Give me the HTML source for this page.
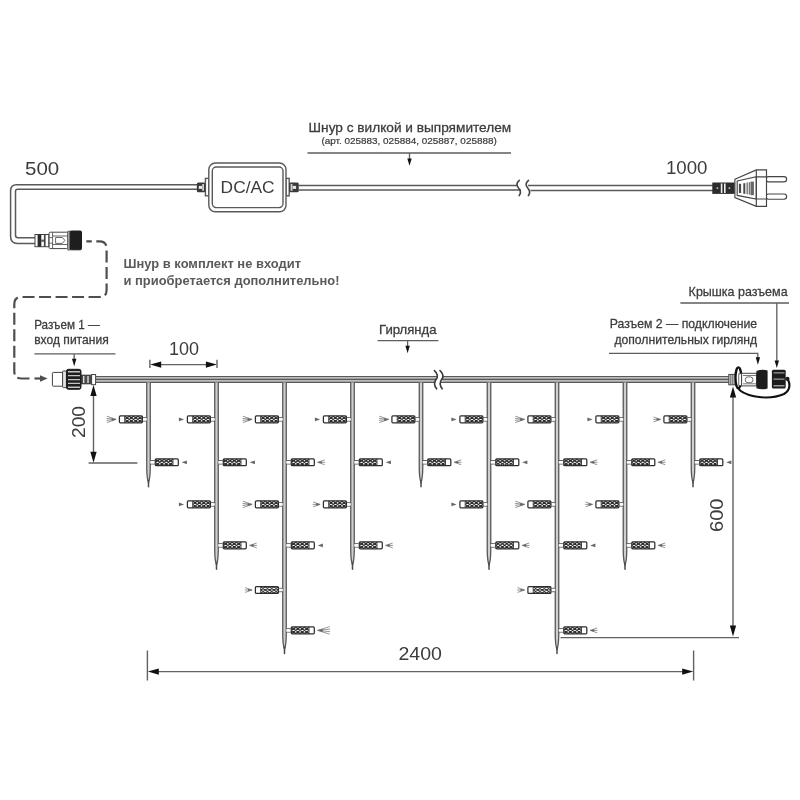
<!DOCTYPE html>
<html><head><meta charset="utf-8"><title>Scheme</title>
<style>html,body{margin:0;padding:0;background:#fff;}body{width:800px;height:800px;overflow:hidden;font-family:"Liberation Sans",sans-serif;}svg{display:block;will-change:transform;filter:blur(0.45px);}text{font-family:"Liberation Sans",sans-serif;}</style>
</head><body>
<svg width="800" height="800" viewBox="0 0 800 800">
<defs>
<g id="ledL">
<path d="M-5.6 -1.7H-1.6M-5.6 1.7H-1.6" stroke="#595959" stroke-width="1" fill="none"/>
<rect x="-5.8" y="-1.2" width="4" height="2.4" fill="#fff"/>
<rect x="-29.1" y="-3.45" width="23" height="6.9" rx="1" fill="#fff" stroke="#2e2e2e" stroke-width="1.25"/>
<path transform="translate(-23.6 0)" d="M0.00 -3.10l4.35 3.10M0.00 0.00l4.35 -3.10M0.00 0.00l4.35 3.10M0.00 3.10l4.35 -3.10M4.35 -3.10l4.35 3.10M4.35 0.00l4.35 -3.10M4.35 0.00l4.35 3.10M4.35 3.10l4.35 -3.10M8.70 -3.10l4.35 3.10M8.70 0.00l4.35 -3.10M8.70 0.00l4.35 3.10M8.70 3.10l4.35 -3.10M13.05 -3.10l4.35 3.10M13.05 0.00l4.35 -3.10M13.05 0.00l4.35 3.10M13.05 3.10l4.35 -3.10" stroke="#2e2e2e" stroke-width="1.15" fill="none"/>
<path d="M-23.8 -3.4V3.4" stroke="#333" stroke-width="0.9"/>
</g>
<g id="ledR">
<path d="M1.6 -1.7H6.3M1.6 1.7H6.3" stroke="#595959" stroke-width="1" fill="none"/>
<rect x="1.8" y="-1.2" width="4.4" height="2.4" fill="#fff"/>
<rect x="6.8" y="-3.45" width="23" height="6.9" rx="1" fill="#fff" stroke="#2e2e2e" stroke-width="1.25"/>
<path transform="translate(6.9 0)" d="M0.00 -3.10l4.35 3.10M0.00 0.00l4.35 -3.10M0.00 0.00l4.35 3.10M0.00 3.10l4.35 -3.10M4.35 -3.10l4.35 3.10M4.35 0.00l4.35 -3.10M4.35 0.00l4.35 3.10M4.35 3.10l4.35 -3.10M8.70 -3.10l4.35 3.10M8.70 0.00l4.35 -3.10M8.70 0.00l4.35 3.10M8.70 3.10l4.35 -3.10M13.05 -3.10l4.35 3.10M13.05 0.00l4.35 -3.10M13.05 0.00l4.35 3.10M13.05 3.10l4.35 -3.10" stroke="#2e2e2e" stroke-width="1.15" fill="none"/>
<path d="M24.5 -3.4V3.4" stroke="#333" stroke-width="0.9"/>
</g>
<g id="rayL"><path d="M0 0L-9.3 -3.2M0 0L-9.6 -1M0 0L-9.6 1M0 0L-9.3 3.2" stroke="#8a8a8a" stroke-width="0.9" fill="none"/><path d="M0 0L-4.5 -1.5V1.5Z" fill="#666"/></g>
<g id="rayM"><path d="M0 0L-7 -2.4M0 0L-7.4 0M0 0L-7 2.4" stroke="#8a8a8a" stroke-width="0.9" fill="none"/><path d="M0 0L-4 -1.3V1.3Z" fill="#666"/></g>
<g id="rayX"><path d="M0 0L-12 -3.8M0 0L-12.4 -1.3M0 0L-12.4 1.3M0 0L-12 3.8" stroke="#8a8a8a" stroke-width="0.9" fill="none"/><path d="M0 0L-5 -1.6V1.6Z" fill="#666"/></g>
<path id="rayS" d="M0 0L-5.2 -1.9V1.9Z" fill="#666"/>
<path id="ahD" d="M0 0L-3.15 -11L3.15 -11Z" fill="#111"/>
<path id="ahS" d="M0 0L-2.2 -7.4L2.2 -7.4Z" fill="#111"/>
</defs>
<g fill="none" stroke="#595959" stroke-width="1.5">
<path d="M197 184.8H16.6Q10.6 184.8 10.6 190.8V236.4Q10.6 243.4 17.6 243.4H35"/>
<path d="M197 189.3H17.6Q15.5 189.3 15.5 191.4V235.3Q15.5 237.8 18 237.8H35"/>
<path d="M299 185.4H518M299 189.9H521"/>
<path d="M528 185.6H713M530.5 190.6H713"/>
</g>
<g fill="none" stroke="#444" stroke-width="1.6" stroke-linecap="round"><path d="M519.3 180.4Q515 184 518.5 188Q522 192 519.2 195.6"/><path d="M528.5 180.4Q524.2 184 527.7 188Q531.2 192 528.4 195.6"/></g>
<g fill="#fff" stroke="#595959" stroke-width="1.4">
<rect x="205.4" y="178.4" width="3.4" height="17.4"/>
<rect x="286" y="178.4" width="3.2" height="17.4"/>
<rect x="208.8" y="163" width="77.2" height="48.8" rx="6.5"/>
<rect x="212.3" y="167" width="70.7" height="40.6" rx="4"/>
</g>
<rect x="196.8" y="182.6" width="8.6" height="9.6" rx="1.5" fill="#3a3a3a"/>
<rect x="202.2" y="184" width="1.8" height="6.8" fill="#cfcfcf"/>
<rect x="198.8" y="185.9" width="3.2" height="3" fill="#e8e8e8"/>
<rect x="289.2" y="182.6" width="9.6" height="9.6" rx="1.5" fill="#3a3a3a"/>
<rect x="290.6" y="184" width="1.9" height="6.8" fill="#cfcfcf"/>
<rect x="292.7" y="185.9" width="3.4" height="3" fill="#e8e8e8"/>
<text x="220.6" y="193.1" font-size="17.2" fill="#3c3c3c" textLength="54" lengthAdjust="spacingAndGlyphs">DC/AC</text>
<g stroke="#444" stroke-width="1">
<rect x="35" y="234.5" width="13.8" height="12.2" fill="#fff"/>
<rect x="37.6" y="234.5" width="3.7" height="12.2" fill="#2b2b2b" stroke="none"/>
<rect x="41.3" y="239.6" width="2.6" height="2.2" fill="#555" stroke="none"/>
<rect x="43.9" y="234.5" width="1.7" height="12.2" fill="#444" stroke="none"/>
<rect x="49.1" y="232.2" width="18.8" height="16.4" rx="1.2" fill="#fff"/>
<path d="M52.6 232.4V248.4M49.3 237.6H52.6M49.3 243.2H52.6M52.6 236H67.6M52.6 244.5H67.6" fill="none" stroke-width="0.8"/>
<path d="M55.6 237.5H62.4L64.9 240.4L62.4 243.4H55.6Z" fill="#fff" stroke-width="0.8"/>
<rect x="67.9" y="231.2" width="2.2" height="18.8" fill="#ccc" stroke-width="0.8"/>
<rect x="70.1" y="231" width="11.4" height="18.8" rx="1.2" fill="#1e1e1e" stroke="#1e1e1e"/>
</g>
<path d="M86.3 241.4H99.5Q106.6 241.4 106.6 248.5V289.9Q106.6 297 99.5 297H21.4Q14.3 297 14.3 304.1V371.4Q14.3 378.5 21.4 378.5H31" fill="none" stroke="#4e4e4e" stroke-width="2.2" stroke-dasharray="12 4.5" stroke-dashoffset="6.5"/>
<path d="M34.5 378.5H41" stroke="#4e4e4e" stroke-width="2.2"/>
<path d="M47.6 378.5L40 375.2V381.8Z" fill="#4e4e4e"/>
<rect x="712.3" y="182.5" width="22.5" height="11.4" fill="#2c2c2c"/>
<path d="M716.6 188.2h1.6M728.6 188.2h1.6" stroke="#eee" stroke-width="1.2" fill="none"/>
<path d="M721.6 183.4v9.6M724.8 183.4v9.6" stroke="#eee" stroke-width="1.6" fill="none"/>
<g fill="#fff" stroke="#444" stroke-width="1.15">
<rect x="766" y="176.6" width="20.6" height="5.2" rx="2.6"/>
<rect x="766" y="194" width="20.6" height="5.2" rx="2.6"/>
<path d="M734.9 179.2L756.3 169.9H766.5V206.4H756.3L734.9 197.6Z"/>
<path d="M737.2 181L756.3 176.8V199L737.2 195.4Z"/>
<path d="M756.3 169.9V206.4M756.3 176.8H766.5M756.3 199H766.5" fill="none"/>
</g>
<g stroke="#4a4a4a" fill="none"><path d="M740 183.8v9.2" stroke-width="2.2"/><path d="M744.3 183.2v10.6" stroke-width="2"/><path d="M747.2 182.6v11.6" stroke-width="1.4" stroke="#777"/><path d="M749.4 182.2v12.4" stroke-width="1.4" stroke="#777"/><path d="M752.2 181.6v13.6" stroke-width="3.4" stroke="#666"/></g>
<g fill="none" stroke="#595959">
<rect x="96" y="376" width="340" height="6.6" fill="#bdbdbd" stroke="none"/>
<rect x="442.5" y="376" width="286.5" height="6.6" fill="#bdbdbd" stroke="none"/>
<path d="M96 376.5H437M96 379.4H436M96 382.3H435M443 376.5H729M441.8 379.4H729M441 382.3H729" stroke-width="1.15"/>
</g>
<g fill="none" stroke="#3a3a3a" stroke-width="1.6" stroke-linecap="round"><path d="M434.4 370.6Q439.4 375 436 379.6Q432.8 384 436.6 388.8"/><path d="M440 370.6Q445 375 441.6 379.6Q438.4 384 442.2 388.8"/></g>
<path d="M146.75 382.6V468.6Q146.90 478.6 148.50 482.6Q150.10 478.6 150.25 468.6V382.6" fill="#cfcfcf" stroke="#595959" stroke-width="1.3"/>
<path d="M148.50 480.6V486.8" stroke="#4a4a4a" stroke-width="1.5" stroke-linecap="round" fill="none"/>
<use href="#ledL" x="148.50" y="419.40"/>
<use href="#rayL" x="116.10" y="419.40"/>
<use href="#ledR" x="148.50" y="462.30"/>
<use href="#rayS" transform="translate(181.70 462.30) scale(-1 1)"/>
<path d="M214.75 382.6V551.0Q214.90 561.0 216.50 565.0Q218.10 561.0 218.25 551.0V382.6" fill="#cfcfcf" stroke="#595959" stroke-width="1.3"/>
<path d="M216.50 563.0V569.2" stroke="#4a4a4a" stroke-width="1.5" stroke-linecap="round" fill="none"/>
<use href="#ledL" x="216.50" y="419.40"/>
<use href="#rayS" x="184.10" y="419.40"/>
<use href="#ledR" x="216.50" y="462.30"/>
<use href="#rayS" transform="translate(249.70 462.30) scale(-1 1)"/>
<use href="#ledL" x="216.50" y="504.40"/>
<use href="#rayS" x="184.10" y="504.40"/>
<use href="#ledR" x="216.50" y="545.40"/>
<use href="#rayM" transform="translate(249.70 545.40) scale(-1 1)"/>
<path d="M282.75 382.6V635.2Q282.90 645.2 284.50 649.2Q286.10 645.2 286.25 635.2V382.6" fill="#cfcfcf" stroke="#595959" stroke-width="1.3"/>
<path d="M284.50 647.2V653.4" stroke="#4a4a4a" stroke-width="1.5" stroke-linecap="round" fill="none"/>
<use href="#ledL" x="284.50" y="419.40"/>
<use href="#rayL" x="252.10" y="419.40"/>
<use href="#ledR" x="284.50" y="462.30"/>
<use href="#rayM" transform="translate(317.70 462.30) scale(-1 1)"/>
<use href="#ledL" x="284.50" y="504.40"/>
<use href="#rayL" x="252.10" y="504.40"/>
<use href="#ledR" x="284.50" y="545.40"/>
<use href="#rayS" transform="translate(317.70 545.40) scale(-1 1)"/>
<use href="#ledL" x="284.50" y="590.00"/>
<use href="#rayM" x="252.10" y="590.00"/>
<use href="#ledR" x="284.50" y="630.40"/>
<use href="#rayX" transform="translate(317.70 630.40) scale(-1 1)"/>
<path d="M350.75 382.6V551.0Q350.90 561.0 352.50 565.0Q354.10 561.0 354.25 551.0V382.6" fill="#cfcfcf" stroke="#595959" stroke-width="1.3"/>
<path d="M352.50 563.0V569.2" stroke="#4a4a4a" stroke-width="1.5" stroke-linecap="round" fill="none"/>
<use href="#ledL" x="352.50" y="419.40"/>
<use href="#rayS" x="320.10" y="419.40"/>
<use href="#ledR" x="352.50" y="462.30"/>
<use href="#rayS" transform="translate(385.70 462.30) scale(-1 1)"/>
<use href="#ledL" x="352.50" y="504.40"/>
<use href="#rayM" x="320.10" y="504.40"/>
<use href="#ledR" x="352.50" y="545.40"/>
<use href="#rayM" transform="translate(385.70 545.40) scale(-1 1)"/>
<path d="M419.25 382.6V468.6Q419.40 478.6 421.00 482.6Q422.60 478.6 422.75 468.6V382.6" fill="#cfcfcf" stroke="#595959" stroke-width="1.3"/>
<path d="M421.00 480.6V486.8" stroke="#4a4a4a" stroke-width="1.5" stroke-linecap="round" fill="none"/>
<use href="#ledL" x="421.00" y="419.40"/>
<use href="#rayL" x="388.60" y="419.40"/>
<use href="#ledR" x="421.00" y="462.30"/>
<use href="#rayM" transform="translate(454.20 462.30) scale(-1 1)"/>
<path d="M487.25 382.6V551.0Q487.40 561.0 489.00 565.0Q490.60 561.0 490.75 551.0V382.6" fill="#cfcfcf" stroke="#595959" stroke-width="1.3"/>
<path d="M489.00 563.0V569.2" stroke="#4a4a4a" stroke-width="1.5" stroke-linecap="round" fill="none"/>
<use href="#ledL" x="489.00" y="419.40"/>
<use href="#rayS" x="456.60" y="419.40"/>
<use href="#ledR" x="489.00" y="462.30"/>
<use href="#rayS" transform="translate(522.20 462.30) scale(-1 1)"/>
<use href="#ledL" x="489.00" y="504.40"/>
<use href="#rayS" x="456.60" y="504.40"/>
<use href="#ledR" x="489.00" y="545.40"/>
<use href="#rayM" transform="translate(522.20 545.40) scale(-1 1)"/>
<path d="M555.25 382.6V635.2Q555.40 645.2 557.00 649.2Q558.60 645.2 558.75 635.2V382.6" fill="#cfcfcf" stroke="#595959" stroke-width="1.3"/>
<path d="M557.00 647.2V653.4" stroke="#4a4a4a" stroke-width="1.5" stroke-linecap="round" fill="none"/>
<use href="#ledL" x="557.00" y="419.40"/>
<use href="#rayL" x="524.60" y="419.40"/>
<use href="#ledR" x="557.00" y="462.30"/>
<use href="#rayM" transform="translate(590.20 462.30) scale(-1 1)"/>
<use href="#ledL" x="557.00" y="504.40"/>
<use href="#rayL" x="524.60" y="504.40"/>
<use href="#ledR" x="557.00" y="545.40"/>
<use href="#rayS" transform="translate(590.20 545.40) scale(-1 1)"/>
<use href="#ledL" x="557.00" y="590.00"/>
<use href="#rayM" x="524.60" y="590.00"/>
<use href="#ledR" x="557.00" y="630.40"/>
<use href="#rayM" transform="translate(590.20 630.40) scale(-1 1)"/>
<path d="M623.25 382.6V551.0Q623.40 561.0 625.00 565.0Q626.60 561.0 626.75 551.0V382.6" fill="#cfcfcf" stroke="#595959" stroke-width="1.3"/>
<path d="M625.00 563.0V569.2" stroke="#4a4a4a" stroke-width="1.5" stroke-linecap="round" fill="none"/>
<use href="#ledL" x="625.00" y="419.40"/>
<use href="#rayS" x="592.60" y="419.40"/>
<use href="#ledR" x="625.00" y="462.30"/>
<use href="#rayM" transform="translate(658.20 462.30) scale(-1 1)"/>
<use href="#ledL" x="625.00" y="504.40"/>
<use href="#rayM" x="592.60" y="504.40"/>
<use href="#ledR" x="625.00" y="545.40"/>
<use href="#rayM" transform="translate(658.20 545.40) scale(-1 1)"/>
<path d="M691.25 382.6V468.6Q691.40 478.6 693.00 482.6Q694.60 478.6 694.75 468.6V382.6" fill="#cfcfcf" stroke="#595959" stroke-width="1.3"/>
<path d="M693.00 480.6V486.8" stroke="#4a4a4a" stroke-width="1.5" stroke-linecap="round" fill="none"/>
<use href="#ledL" x="693.00" y="419.40"/>
<use href="#rayM" x="660.60" y="419.40"/>
<use href="#ledR" x="693.00" y="462.30"/>
<use href="#rayS" transform="translate(726.20 462.30) scale(-1 1)"/>
<g stroke="#444" stroke-width="1">
<rect x="52.4" y="372.4" width="10.4" height="13.8" rx="0.8" fill="#fff"/>
<rect x="62.6" y="371" width="4" height="16.6" rx="0.8" fill="#e4e4e4"/>
<rect x="66.4" y="369.3" width="14.6" height="20" rx="2" fill="#1e1e1e" stroke="#1e1e1e"/>
<path d="M68 371.7H80M68 375.6H80M68 379.6H80M68 383.4H80M68 387.2H80" stroke="#c4c4c4" stroke-width="1.4" fill="none"/>
<rect x="81.4" y="375.2" width="10" height="8.6" fill="#4a4a4a" stroke="#333"/>
<path d="M83.7 376v7M88 376v7" stroke="#ddd" stroke-width="1.4" fill="none"/>
<rect x="91.6" y="374.5" width="4" height="10.2" fill="#fff"/>
</g>
<g stroke="#444" stroke-width="1">
<rect x="728.8" y="374.4" width="6.4" height="10.4" fill="#d4d4d4"/>
<path d="M730.8 374.6v10M732.8 374.6v10" stroke="#555" fill="none" stroke-width="0.9"/>
</g>
<ellipse cx="738.4" cy="377.8" rx="2.9" ry="10.4" fill="#fff" stroke="#111" stroke-width="2.3"/>
<g stroke="#444" stroke-width="1">
<rect x="738.8" y="373.8" width="2.8" height="11.6" fill="#fff" stroke-width="0.8"/>
<rect x="741.6" y="373.3" width="15" height="12.6" fill="#fff"/>
<rect x="745.3" y="376.9" width="7.6" height="5.8" rx="2.6" fill="#fff" stroke-width="0.8"/>
<path d="M743 375.5H756M743 383.8H756" fill="none" stroke-width="0.7"/>
</g>
<path d="M756.4 371Q762 369 767.6 370.4V388.4Q762 390.2 756.4 388.2Z" fill="#1c1c1c"/>
<rect x="771.9" y="369.7" width="13.8" height="18.8" rx="1.5" fill="#1c1c1c"/>
<path d="M773.5 372.9H784.5M773.5 379.1H784.5M773.5 385.7H784.5" stroke="#9a9a9a" stroke-width="1.4" fill="none"/>
<circle cx="787.4" cy="378.8" r="2.1" fill="#1c1c1c"/>
<path d="M788.2 380Q792 389 784 394Q771 399.6 754 396.2Q741 393.6 737.6 387.6" fill="none" stroke="#111" stroke-width="2.1"/>
<g fill="none" stroke="#626262" stroke-width="1.4">
<path d="M149.9 359.8V368M217 359.8V368M155 364.6H211"/>
<path d="M93.5 392V457M88.6 463H137.4"/>
<path d="M733 394V626M560.5 637.6H739"/>
<path d="M147.4 650.6V680.4M693.6 650.6V680.4M158 671.6H683"/>
</g><g fill="none" stroke="#5e5e5e" stroke-width="1.3">
<path d="M307.5 153H511M409.5 153V159"/>
<path d="M34.4 353.8H115.4M74.2 353.8V360"/>
<path d="M377.6 340.6H438.4M407.6 340.6V347"/>
<path d="M609 353.4H757.8V358"/>
<path d="M680.4 303H789M776.8 303V361"/>
</g>
<use href="#ahD" transform="translate(150.2 364.6) rotate(90)"/>
<use href="#ahD" transform="translate(216.9 364.6) rotate(-90)"/>
<use href="#ahD" transform="translate(93.5 384.9) rotate(180)"/>
<use href="#ahD" transform="translate(93.5 462.8) rotate(0)"/>
<use href="#ahD" transform="translate(733.0 386.6) rotate(180)"/>
<use href="#ahD" transform="translate(733.0 636.6) rotate(0)"/>
<use href="#ahD" transform="translate(147.8 671.6) rotate(90)"/>
<use href="#ahD" transform="translate(693.2 671.6) rotate(-90)"/>
<use href="#ahS" transform="translate(409.5 165.8) rotate(0)"/>
<use href="#ahS" transform="translate(74.2 366.2) rotate(0)"/>
<use href="#ahS" transform="translate(407.6 353.2) rotate(0)"/>
<use href="#ahS" transform="translate(757.9 364.7) rotate(0)"/>
<use href="#ahS" transform="translate(776.8 368.0) rotate(0)"/>
<text x="308.6" y="132.2" font-size="13.3" fill="#3c3c3c" textLength="202.6" lengthAdjust="spacingAndGlyphs" stroke="#3c3c3c" stroke-width="0.28">Шнур с вилкой и выпрямителем</text>
<text x="321.4" y="144.3" font-size="9.4" fill="#3c3c3c" textLength="175.4" lengthAdjust="spacingAndGlyphs" stroke="#3c3c3c" stroke-width="0.22">(арт. 025883, 025884, 025887, 025888)</text>
<text x="25.0" y="175.0" font-size="19.2" fill="#3c3c3c" textLength="34.2" lengthAdjust="spacingAndGlyphs">500</text>
<text x="666.0" y="174.0" font-size="19.2" fill="#3c3c3c" textLength="41.5" lengthAdjust="spacingAndGlyphs">1000</text>
<text x="123.5" y="267.8" font-size="12.8" fill="#5a5a5a" textLength="177.5" lengthAdjust="spacingAndGlyphs" font-weight="bold">Шнур в комплект не входит</text>
<text x="123.5" y="284.8" font-size="12.8" fill="#5a5a5a" textLength="216.0" lengthAdjust="spacingAndGlyphs" font-weight="bold">и приобретается дополнительно!</text>
<text x="34.2" y="328.5" font-size="12.6" fill="#3c3c3c" textLength="65.5" lengthAdjust="spacingAndGlyphs" stroke="#3c3c3c" stroke-width="0.28">Разъем 1 —</text>
<text x="34.2" y="343.9" font-size="11.9" fill="#3c3c3c" textLength="74.5" lengthAdjust="spacingAndGlyphs" stroke="#3c3c3c" stroke-width="0.28">вход питания</text>
<text x="169.0" y="354.8" font-size="19.2" fill="#3c3c3c" textLength="30.0" lengthAdjust="spacingAndGlyphs">100</text>
<text x="379.0" y="333.8" font-size="12.6" fill="#3c3c3c" textLength="57.6" lengthAdjust="spacingAndGlyphs" stroke="#3c3c3c" stroke-width="0.28">Гирлянда</text>
<text x="609.7" y="327.8" font-size="12.6" fill="#3c3c3c" textLength="147.5" lengthAdjust="spacingAndGlyphs" stroke="#3c3c3c" stroke-width="0.28">Разъем 2 — подключение</text>
<text x="614.4" y="343.5" font-size="11.9" fill="#3c3c3c" textLength="142.8" lengthAdjust="spacingAndGlyphs" stroke="#3c3c3c" stroke-width="0.28">дополнительных гирлянд</text>
<text x="688.6" y="295.7" font-size="12.6" fill="#3c3c3c" textLength="99.0" lengthAdjust="spacingAndGlyphs" stroke="#3c3c3c" stroke-width="0.28">Крышка разъема</text>
<text x="398.5" y="660.0" font-size="19.2" fill="#3c3c3c" textLength="43.5" lengthAdjust="spacingAndGlyphs">2400</text>
<text transform="translate(84.8 438) rotate(-90)" font-size="19.2" fill="#3c3c3c" textLength="32" lengthAdjust="spacingAndGlyphs">200</text>
<text transform="translate(722.6 532) rotate(-90)" font-size="19.2" fill="#3c3c3c" textLength="33.5" lengthAdjust="spacingAndGlyphs">600</text>
</svg>
</body></html>
